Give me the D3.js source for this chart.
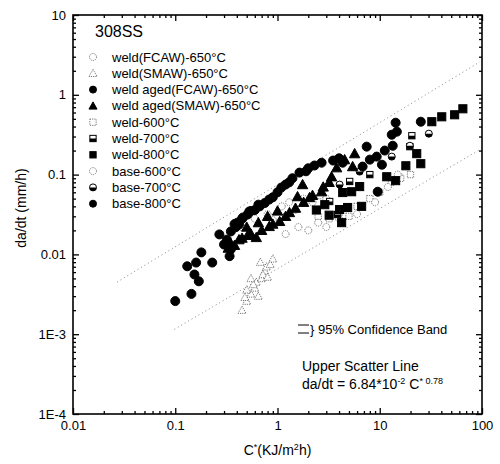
<!DOCTYPE html>
<html>
<head>
<meta charset="utf-8">
<script src="https://cdn.jsdelivr.net/npm/d3@7"></script>
<style>
  body { margin: 0; background: #fff; }
  text { font-family: "Liberation Sans", Arial, sans-serif; fill: #000; }
</style>
</head>
<body>
<div id="chart"></div>
<script>
// legend order
const seriesNames = [
  "weld(FCAW)-650°C", "weld(SMAW)-650°C", "weld aged(FCAW)-650°C",
  "weld aged(SMAW)-650°C", "weld-600°C", "weld-700°C", "weld-800°C",
  "base-600°C", "base-700°C", "base-800°C"
];

// [C* (KJ/m2h), da/dt (mm/h)]
const weldFcaw650 = [[0.45,0.022],[0.6,0.028],[0.8,0.032],[1.1,0.04],[1.3,0.045],[1.5,0.036],[1.8,0.05],[2.2,0.045],[2.6,0.055],[3.0,0.05],[0.9,0.027],[1.2,0.03]];
const weldSmaw650 = [[0.45,2.0e-3],[0.5,2.6e-3],[0.55,3.2e-3],[0.6,3.8e-3],[0.62,4.5e-3],[0.7,5.0e-3],[0.75,6.2e-3],[0.78,7.0e-3],[0.68,8.0e-3],[0.72,5.6e-3],[0.58,4.2e-3],[0.85,7.5e-3],[0.5,3.6e-3],[0.65,3.0e-3],[0.8,5.2e-3],[0.55,5.0e-3],[0.9,8.8e-3],[0.48,2.9e-3]];
const weldAgedFcaw650 = [[0.3,0.0133],[0.32,0.0153],[0.35,0.0194],[0.39,0.0219],[0.42,0.0237],[0.46,0.029],[0.51,0.0316],[0.53,0.0345],[0.67,0.040],[0.83,0.0487],[1.09,0.0688],[1.64,0.106],[2.7,0.141],[4.34,0.141],[0.6,0.036],[0.75,0.044],[1.3,0.08],[2.0,0.12],
  [0.38,0.024],[0.45,0.028],[0.55,0.035],[0.65,0.042],[0.9,0.052],[1.0,0.06],[1.2,0.075],[1.4,0.09],[1.9,0.11],[2.3,0.13],[3.5,0.15],[4.0,0.16]];
const weldAgedSmaw650 = [[0.354,0.0133],[0.42,0.0153],[0.51,0.0173],[0.62,0.0163],[0.83,0.0224],[1.05,0.0259],[1.31,0.0335],[1.57,0.053],[1.76,0.075],[2.06,0.0516],[2.7,0.061],[3.38,0.094],[3.79,0.122],[4.53,0.154],[5.68,0.183],[5.43,0.126],
  [0.33,0.012],[0.38,0.013],[0.45,0.016],[0.55,0.018],[0.7,0.02],[0.9,0.024],[1.2,0.03],[1.5,0.038],[1.8,0.045],[2.2,0.055],[2.8,0.07],[3.2,0.08],[0.5,0.022],[0.65,0.025],[0.8,0.03],[1.0,0.035]];
const weld600 = [[2.5,0.03],[3.2,0.028],[4.0,0.033],[5.0,0.03],[6,0.04],[8,0.05],[10,0.06],[13,0.08],[16,0.09],[20,0.1]];
const weld700 = [[20.6,0.307],[19.7,0.224],[3.24,0.046],[5.08,0.082],[3.87,0.0316],[8.0,0.1]];
const weld800 = [[65,0.668],[54,0.562],[40.4,0.53],[32.3,0.46],[23,0.183],[25.2,0.137],[18,0.129],[14.3,0.084],[11.7,0.094],[6.36,0.0708],[5.31,0.061],[4.34,0.0596],[6.65,0.040],[4.85,0.0387],[4.05,0.0365],[4.24,0.025],[3.2,0.031],[2.4,0.036],[2.9,0.042]];
const base600 = [[1.2,0.018],[1.6,0.022],[2,0.02],[2.5,0.025],[3,0.022],[4,0.028],[6,0.032],[9,0.045],[12,0.07],[15,0.1]];
const base700 = [[30.2,0.326],[19.7,0.23],[13.1,0.168],[6.36,0.109],[4.05,0.075]];
const base800 = [[0.10,2.6e-3],[0.144,3.2e-3],[0.17,4.6e-3],[0.154,5.6e-3],[0.131,7.1e-3],[0.16,7.9e-3],[0.18,0.0106],[0.23,7.9e-3],[0.27,0.0178],[0.34,9.5e-3],[0.35,0.0116],[0.405,0.025],[7.45,0.224],[11.2,0.2],[14.3,0.447],[14.7,0.345],[13.1,0.316],[25.2,0.46],[9.34,0.168],[8.0,0.154],[6.8,0.126],[10.5,0.133],[9.55,0.061],[13.4,0.23]];

const seriesValues = [weldFcaw650, weldSmaw650, weldAgedFcaw650, weldAgedSmaw650,
  weld600, weld700, weld800, base600, base700, base800];

// 95% confidence band end points
const upperBand = [[0.027,4.5e-3],[95,2.58]];
const lowerBand = [[0.098,1.15e-3],[95,0.205]];

const xTickValues = [0.01, 0.1, 1, 10, 100];
const xTickLabels = ["0.01", "0.1", "1", "10", "100"];
const yTickValues = [1e-4, 1e-3, 0.01, 0.1, 1, 10];
const yTickLabels = ["1E-4", "1E-3", "0.01", "0.1", "1", "10"];

// marker look per series (same order as seriesNames)
const markerStyle = [
  { shape: "circle", fill: "open" },
  { shape: "triangle", fill: "open" },
  { shape: "circle", fill: "solid" },
  { shape: "triangle", fill: "solid" },
  { shape: "square", fill: "open" },
  { shape: "square", fill: "half" },
  { shape: "square", fill: "solid" },
  { shape: "circle", fill: "open" },
  { shape: "circle", fill: "half" },
  { shape: "circle", fill: "solid" }
];

class ScatterChart {
  constructor(_config) {
    this.config = {
      parentElement: _config.parentElement,
      width: 500,
      height: 464,
      margin: { top: 15, left: 73, right: 18, bottom: 50 }
    };
    this.initVis();
  }

  initVis() {
    const vis = this;
    const c = vis.config;
    vis.w = c.width - c.margin.left - c.margin.right;
    vis.h = c.height - c.margin.top - c.margin.bottom;

    vis.root = d3.select(c.parentElement).append("svg")
      .attr("width", c.width)
      .attr("height", c.height);
    vis.svg = vis.root.append("g")
      .attr("transform", `translate(${c.margin.left},${c.margin.top})`);

    vis.x = d3.scaleLog().domain([0.01, 100]).range([0, vis.w]);
    vis.y = d3.scaleLog().domain([1e-4, 10]).range([vis.h, 0]);

    vis.drawAxes();
    vis.updateVis();
    vis.drawLegend();
  }

  drawAxes() {
    const vis = this;
    const minorX = vis.x.ticks().filter(d => !xTickValues.includes(d));
    const minorY = vis.y.ticks().filter(d => !yTickValues.some(v => Math.abs(v - d) / v < 1e-6));
    const noLabel = () => "";

    const addAxis = (axis, tr) => {
      const g = vis.svg.append("g").attr("transform", tr).call(axis);
      g.select(".domain").remove();
      g.selectAll("line").attr("stroke", "#000").attr("stroke-width", 1.3);
      return g;
    };

    // bottom
    addAxis(d3.axisBottom(vis.x).tickValues(xTickValues).tickSize(-6).tickPadding(7)
      .tickFormat((d, i) => xTickLabels[i]), `translate(0,${vis.h})`)
      .selectAll("text").style("font-size", "13px");
    addAxis(d3.axisBottom(vis.x).tickValues(minorX).tickSize(-3).tickFormat(noLabel), `translate(0,${vis.h})`);
    // top
    addAxis(d3.axisTop(vis.x).tickValues(xTickValues).tickSize(-6).tickFormat(noLabel), "translate(0,0)");
    addAxis(d3.axisTop(vis.x).tickValues(minorX).tickSize(-3).tickFormat(noLabel), "translate(0,0)");
    // left
    addAxis(d3.axisLeft(vis.y).tickValues(yTickValues).tickSize(-6).tickPadding(7)
      .tickFormat((d, i) => yTickLabels[i]), "translate(0,0)")
      .selectAll("text").style("font-size", "13px");
    addAxis(d3.axisLeft(vis.y).tickValues(minorY).tickSize(-3).tickFormat(noLabel), "translate(0,0)");
    // right
    addAxis(d3.axisRight(vis.y).tickValues(yTickValues).tickSize(-6).tickFormat(noLabel), `translate(${vis.w},0)`);
    addAxis(d3.axisRight(vis.y).tickValues(minorY).tickSize(-3).tickFormat(noLabel), `translate(${vis.w},0)`);

    vis.svg.append("rect")
      .attr("width", vis.w).attr("height", vis.h)
      .attr("fill", "none").attr("stroke", "#000").attr("stroke-width", 1.6);

    // axis titles
    const xl = vis.root.append("text")
      .attr("x", vis.config.margin.left + vis.x(1))
      .attr("y", 455)
      .attr("text-anchor", "middle")
      .style("font-size", "14px");
    xl.append("tspan").text("C");
    xl.append("tspan").attr("dy", -5).style("font-size", "9px").text("*");
    xl.append("tspan").attr("dy", 5).text("(KJ/m");
    xl.append("tspan").attr("dy", -5).style("font-size", "9px").text("2");
    xl.append("tspan").attr("dy", 5).text("h)");

    vis.root.append("text")
      .attr("transform", "translate(26,208) rotate(-90)")
      .attr("text-anchor", "middle")
      .style("font-size", "14px")
      .text("da/dt (mm/h)");
  }

  marker(g, style, size) {
    const r = size / 2;
    const faint = style.fill === "open";
    const stroke = faint ? "#555" : "#000";
    if (style.shape === "circle") {
      g.append("circle").attr("r", r)
        .attr("fill", style.fill === "solid" ? "#000" : "#fff")
        .attr("stroke", stroke).attr("stroke-width", faint ? 0.8 : 1)
        .attr("stroke-dasharray", faint ? "1.2,1" : null);
      if (style.fill === "half") {
        g.append("path")
          .attr("d", `M${-r},0 A${r},${r} 0 0 0 ${r},0 Z`)
          .attr("fill", "#000");
      }
    } else if (style.shape === "square") {
      const s = r * 0.9;
      g.append("rect").attr("x", -s).attr("y", -s).attr("width", 2 * s).attr("height", 2 * s)
        .attr("fill", style.fill === "solid" ? "#000" : "#fff")
        .attr("stroke", stroke).attr("stroke-width", faint ? 0.8 : 1)
        .attr("stroke-dasharray", faint ? "1.2,1" : null);
      if (style.fill === "half") {
        g.append("rect").attr("x", -s).attr("y", 0).attr("width", 2 * s).attr("height", s)
          .attr("fill", "#000");
      }
    } else {
      const t = r * 1.15;
      g.append("path")
        .attr("d", `M0,${-t} L${t},${t * 0.8} L${-t},${t * 0.8} Z`)
        .attr("fill", style.fill === "solid" ? "#000" : "#fff")
        .attr("stroke", stroke).attr("stroke-width", faint ? 0.8 : 1)
        .attr("stroke-dasharray", faint ? "1.2,1" : null);
    }
  }

  updateVis() {
    const vis = this;

    // confidence band lines
    const line = d3.line().x(d => vis.x(d[0])).y(d => vis.y(d[1]));
    [upperBand, lowerBand].forEach(band => {
      vis.svg.append("path")
        .attr("d", line(band))
        .attr("fill", "none")
        .attr("stroke", "#777")
        .attr("stroke-width", 0.9)
        .attr("stroke-dasharray", "1,3");
    });

    // open (faint) series first, solid on top
    const order = [0, 1, 4, 7, 5, 8, 3, 2, 9, 6];
    order.forEach(si => {
      const style = markerStyle[si];
      const size = style.fill === "solid" ? 9 : 7;
      vis.svg.selectAll(`g.pt-${si}`)
        .data(seriesValues[si])
        .join("g")
        .attr("class", `pt-${si}`)
        .attr("transform", d => `translate(${vis.x(d[0])},${vis.y(d[1])})`)
        .each(function () { vis.marker(d3.select(this), style, size); });
    });

    // annotations
    const a = vis.root.append("g");
    a.append("line").attr("x1", 298).attr("x2", 309).attr("y1", 325).attr("y2", 325).attr("stroke", "#000");
    a.append("line").attr("x1", 298).attr("x2", 309).attr("y1", 333).attr("y2", 333).attr("stroke", "#000");
    a.append("text").attr("x", 310).attr("y", 334).style("font-size", "13px")
      .text("} 95% Confidence Band");
    a.append("text").attr("x", 302).attr("y", 371).style("font-size", "14px")
      .text("Upper Scatter Line");
    const f = a.append("text").attr("x", 302).attr("y", 389).style("font-size", "14px");
    f.append("tspan").text("da/dt = 6.84*10");
    f.append("tspan").attr("dy", -5).style("font-size", "9px").text("-2");
    f.append("tspan").attr("dy", 5).text(" C");
    f.append("tspan").attr("dy", -5).style("font-size", "9px").text("* 0.78");
  }

  drawLegend() {
    const vis = this;
    const lg = vis.root.append("g");
    lg.append("text").attr("x", 95).attr("y", 37).style("font-size", "16px").text("308SS");
    seriesNames.forEach((name, i) => {
      const yy = 57 + i * 16.3;
      const mg = lg.append("g").attr("transform", `translate(93,${yy})`);
      vis.marker(mg, markerStyle[i], 7);
      lg.append("text").attr("x", 112).attr("y", yy + 4.5)
        .style("font-size", "13px").text(name);
    });
  }
}

new ScatterChart({ parentElement: "#chart" });
</script>
</body>
</html>
